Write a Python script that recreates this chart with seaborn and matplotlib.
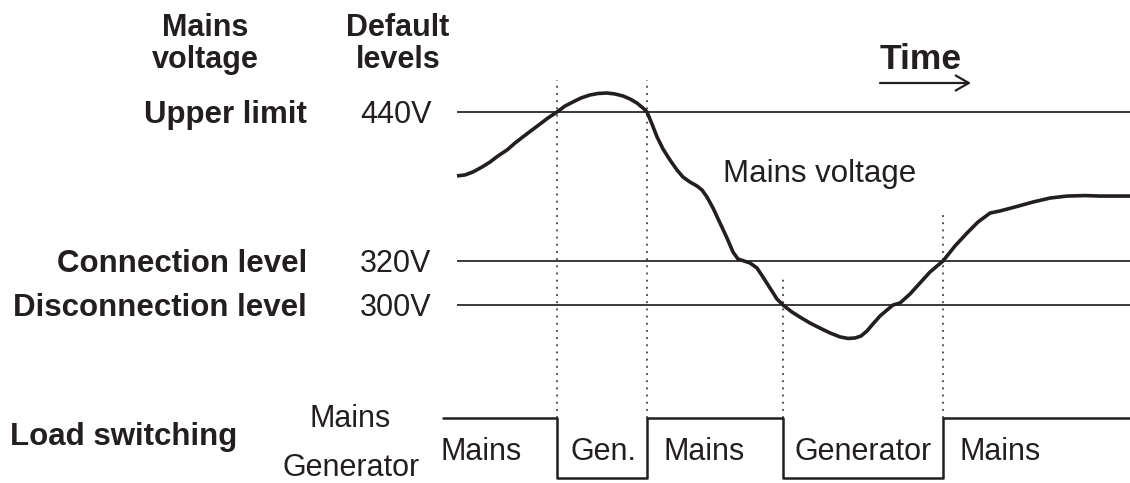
import numpy as np
import matplotlib
matplotlib.use("Agg")
import matplotlib.pyplot as plt
from matplotlib.patches import FancyArrowPatch
from matplotlib.transforms import blended_transform_factory as blend
import seaborn as sns

# Mains voltage trace: time (s) and voltage (V)
time_s = [0.0, 0.8, 1.6, 2.5, 3.3, 4.1, 5.0, 5.8, 6.6, 7.5, 8.3, 9.1, 10.0,
          10.8, 11.6, 12.4, 13.3, 14.1, 15.0, 15.8, 16.6, 17.3, 18.0, 18.6, 19.0,
          19.5, 20.0, 20.6, 21.3, 22.0, 22.6, 23.3, 24.0, 24.5, 25.0, 25.6, 26.3,
          27.0, 27.6, 28.1, 28.7, 29.3, 30.0, 30.6, 31.3, 32.0, 32.6, 33.5, 34.3,
          35.3, 36.3, 37.3, 38.3, 39.1, 39.8, 40.4, 41.0, 41.6, 42.3, 43.0, 43.6,
          44.3, 45.3, 46.3, 47.3, 48.6, 49.8, 51.0, 52.1, 53.3, 54.3, 55.8, 57.6,
          59.3, 61.0, 62.8, 64.3, 67.3]
voltage_v = [388.5, 389.3, 391.7, 395.7, 399.7, 404.6, 409.4, 415, 420, 425.5, 430.3, 435.2, 440,
             444.8, 448.1, 451.3, 453.7, 454.9, 455.3, 454.5, 452.9, 450.5, 447.2, 443.2, 440,
             430.3, 420, 410.2, 401.3, 393.3, 387.6, 383.6, 380.4, 377.2, 371.5, 362.7, 350.6,
             338.5, 327.2, 321.6, 320, 319.1, 316.8, 312.7, 307.7, 302.7, 300, 296.8, 294.5,
             291.8, 289.5, 287.3, 285.5, 284.8, 285, 285.9, 288.2, 291.4, 295, 297.7, 300,
             300.9, 305, 310, 315, 320, 332.1, 342.5, 351.4, 358.6, 360.3, 363.5, 367.5,
             370.7, 372.3, 372.7, 372.3, 372.3]

# Threshold levels
level_names = ["Upper limit", "Connection level", "Disconnection level"]
level_values = [440, 320, 300]
level_labels = ["440V", "320V", "300V"]

# Load switching: change instants and the source selected from then on (1 = mains, 0 = generator)
switch_times = [-1.4, 10.0, 19.0, 32.6, 48.6, 67.3]
switch_state = [1, 0, 1, 0, 1, 1]
segment_labels = ["Mains", "Gen.", "Mains", "Generator", "Mains"]
segment_label_t = [-1.7, 11.3, 20.6, 33.8, 50.3]

# Dotted guides at each switching instant, reaching up to these voltages
guide_times = [10.0, 19.0, 32.6, 48.6]
guide_top_v = [466, 466, 312, 358]

INK = "#231f20"
W, H = 1130, 483

sns.set_theme(style="white")
plt.rcParams["font.family"] = ["Liberation Sans", "DejaVu Sans"]
plt.rcParams["text.color"] = INK

fig = plt.figure(figsize=(W / 100, H / 100), dpi=100)
ax_v = fig.add_axes([0, 0, 1, 1])
ax_l = fig.add_axes([0, 0, 1, 1])
ax_l.patch.set_visible(False)

# Schematic voltage axis: each band between thresholds gets its own height
V_KNOTS = [200, 300, 320, 440, 600]
H_KNOTS = [-42, 178, 222, 371, 569.7]


def fwd(v):
    return np.interp(v, V_KNOTS, H_KNOTS)


def inv(h):
    return np.interp(h, H_KNOTS, V_KNOTS)


ax_v.set_yscale("function", functions=(fwd, inv))
xlim = (-45.7, 67.3)
for ax in (ax_v, ax_l):
    ax.set_xlim(*xlim)
ax_v.set_ylim(inv(0), inv(H))
ax_l.set_ylim(-5 / 60, 478 / 60)

# Threshold lines
ax_v.hlines(level_values, time_s[0], time_s[-1], color="#2b2b2b", lw=1.3)

# Mains voltage curve
sns.lineplot(x=time_s, y=voltage_v, ax=ax_v, sort=False, estimator=None,
             color=INK, lw=2.6, solid_capstyle="butt", solid_joinstyle="round")

# Load switching step trace
sns.lineplot(x=switch_times, y=switch_state, ax=ax_l, sort=False, estimator=None,
             drawstyle="steps-post", color=INK, lw=1.8)

# Dotted guides from the threshold crossings down to the load trace
y_disp = ax_l.transData.transform((0, 1))[1]
v_bottom = ax_v.transData.inverted().transform((0, y_disp))[1]
ax_v.vlines(guide_times, v_bottom, guide_top_v, color=INK, lw=1.1,
            linestyles=(0, (1.2, 3.5)))

for ax in (ax_v, ax_l):
    ax.set_axis_off()

# Level names and values
tr_lv = blend(fig.transFigure, ax_v.transData)
for name, val, lab in zip(level_names, level_values, level_labels):
    ax_v.annotate(name, xy=(307 / W, val), xycoords=tr_lv, xytext=(0, -7.6),
                  textcoords="offset points", ha="right", va="baseline",
                  fontsize=22.5, fontweight="bold")
    ax_v.annotate(lab, xy=(360 / W, val), xycoords=tr_lv, xytext=(0, -7.6),
                  textcoords="offset points", ha="left", va="baseline",
                  fontsize=22)

# Column headers
for x, top, bottom in [(205, "Mains", "voltage"), (398, "Default", "levels")]:
    fig.text(x / W, 1 - 36 / H, top, ha="center", va="baseline",
             fontsize=22, fontweight="bold")
    fig.text(x / W, 1 - 68 / H, bottom, ha="center", va="baseline",
             fontsize=22, fontweight="bold")

# Time direction
fig.text(880 / W, 1 - 69 / H, "Time", ha="left", va="baseline", fontsize=25.5, fontweight="bold")
fig.patches.append(FancyArrowPatch(
    (880 / W, 1 - 83 / H), (971 / W, 1 - 83 / H), transform=fig.transFigure,
    arrowstyle="->,head_length=0.47,head_width=0.27", mutation_scale=20,
    lw=1.6, color=INK, shrinkA=0, shrinkB=0))

fig.text(723 / W, 1 - 182 / H, "Mains voltage", ha="left", va="baseline", fontsize=22.5)

# Load switching labels
fig.text(10 / W, 1 - 445 / H, "Load switching", ha="left", va="baseline",
         fontsize=22.5, fontweight="bold")
tr_ls = blend(fig.transFigure, ax_l.transData)
ax_l.annotate("Mains", xy=(350 / W, 1), xycoords=tr_ls, xytext=(0, -6.5),
              textcoords="offset points", ha="center", va="baseline", fontsize=22)
ax_l.annotate("Generator", xy=(351 / W, 0), xycoords=tr_ls, xytext=(0, 1.6),
              textcoords="offset points", ha="center", va="baseline", fontsize=22)

tr_seg = blend(ax_l.transData, fig.transFigure)
for t, lab in zip(segment_label_t, segment_labels):
    ax_l.text(t, 1 - 460 / H, lab, transform=tr_seg, ha="left", va="baseline", fontsize=22)

fig.savefig("out.png", dpi=100, facecolor="white")
